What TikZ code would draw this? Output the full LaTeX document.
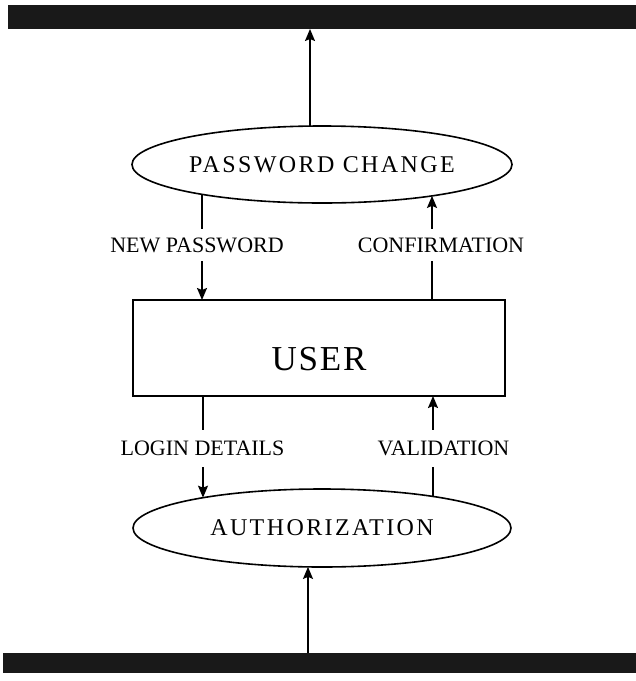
\documentclass[tikz,border=0pt]{standalone}
\usepackage{fontspec}
\setmainfont{Liberation Serif}
\newfontfamily\spacedserif[LetterSpace=10]{Liberation Serif}
\newfontfamily\titleserif[LetterSpace=5]{Liberation Serif}
\usetikzlibrary{shapes.geometric,arrows.meta,calc}
\begin{document}
\begin{tikzpicture}[x=1pt,y=-1pt,
  flow/.style={line width=1.6pt, draw=black},
  arr/.style={flow, -{Stealth[length=12pt,width=10pt,inset=2pt]}},
  process/.style={ellipse, draw, line width=1.6pt, inner sep=0pt, outer sep=0pt,
    font=\spacedserif\fontsize{24}{26}\selectfont},
  entity/.style={rectangle, draw, line width=1.5pt, inner sep=0pt, outer sep=0pt,
    font=\titleserif\fontsize{35}{40}\selectfont},
  flowlabel/.style={font=\fontsize{22}{24}\selectfont, text height=14.5pt,
    text depth=0pt, inner xsep=2pt},
  bar/.style={rectangle, fill=black!90, inner sep=0pt, outer sep=0pt}]

\useasboundingbox (0,0) rectangle (636,681);

% dark bands at top and bottom
\node[bar, minimum width=628pt, minimum height=24pt] (topbar) at (322,17) {};
\node[bar, minimum width=633pt, minimum height=20pt] (botbar) at (319.5,663) {};

% processes and the user entity
\node[process, minimum width=380pt, minimum height=77pt] (pc) at (322,164.5)
  {\makebox[0pt]{PASSWORD CHANGE}};
\node[entity, minimum width=372pt, minimum height=96pt,
  text height=45pt, text depth=0pt] (us) at (319,348) {USER};
\node[process, minimum width=378pt, minimum height=78pt] (au) at (322,528)
  {\makebox[0pt]{AUTHORIZATION}};

% data flow labels
\node[flowlabel, inner ysep=8.7pt]  (np) at (197,245)     {NEW PASSWORD};
\node[flowlabel, inner ysep=8.7pt]  (cf) at (441,245)     {CONFIRMATION};
\node[flowlabel, inner ysep=11.2pt] (ld) at (202.5,448.5) {LOGIN DETAILS};
\node[flowlabel, inner ysep=11.2pt] (vl) at (443.5,448.5) {VALIDATION};

% points on the ellipse outlines where the flows meet them
\coordinate (pcT) at ($(pc.center)+(-12,-38.4)$);
\coordinate (pcL) at ($(pc.center)+(-120,29.85)$);
\coordinate (pcR) at ($(pc.center)+(110,31.4)$);
\coordinate (auL) at ($(au.center)+(-119,-30.3)$);
\coordinate (auR) at ($(au.center)+(111,-31.6)$);
\coordinate (auB) at ($(au.center)+(-14,38.9)$);

% flows
\draw[arr]  (pcT) -- (pcT |- topbar.south);
\draw[flow] (pcL) -- (pcL |- np.north);
\draw[arr]  (pcL |- np.south) -- (pcL |- us.north);
\draw[flow] (pcR |- us.north) -- (pcR |- cf.south);
\draw[arr]  (pcR |- cf.north) -- (pcR);
\draw[flow] (auL |- us.south) -- (auL |- ld.north);
\draw[arr]  (auL |- ld.south) -- (auL);
\draw[flow] (auR) -- (auR |- vl.south);
\draw[arr]  (auR |- vl.north) -- (auR |- us.south);
\draw[arr]  (auB |- botbar.north) -- (auB);
\end{tikzpicture}
\end{document}
